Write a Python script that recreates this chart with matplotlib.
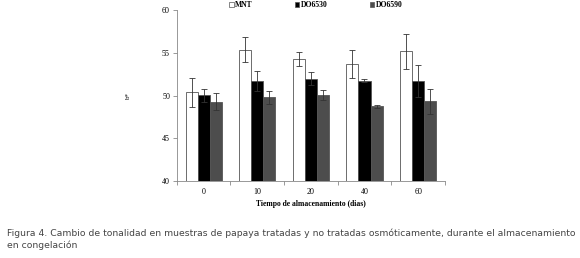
import numpy as np
import matplotlib
matplotlib.use('Agg')
from matplotlib import pyplot as plt
from matplotlib.patches import Patch

# datos
dias = ['0', '10', '20', '40', '60']
series = ['MNT', 'DO6530', 'DO6590']
mnt = [50.4, 55.4, 54.3, 53.7, 55.2]
do6530 = [50.05, 51.7, 52.0, 51.75, 51.75]
do6590 = [49.3, 49.8, 50.1, 48.75, 49.35]
err_mnt = [1.7, 1.5, 0.85, 1.6, 2.05]
err_do6530 = [0.75, 1.2, 0.8, 0.15, 1.9]
err_do6590 = [1.0, 0.8, 0.55, 0.2, 1.45]

colores = ['white', 'black', '#4d4d4d']

plt.rcParams['font.family'] = ['Liberation Serif']
fig = plt.figure(figsize=(5.8, 2.58), dpi=100)
ax = fig.add_axes([0.305, 0.298, 0.462, 0.662])

x = np.arange(len(dias))
w = 0.225
valores = [mnt, do6530, do6590]
errores = [err_mnt, err_do6530, err_do6590]
for i in range(3):
    ax.bar(x + (i - 1) * w, valores[i], w, color=colores[i], edgecolor='#555555',
           linewidth=0.6, yerr=errores[i], capsize=2,
           error_kw={'elinewidth': 0.6, 'capthick': 0.6, 'ecolor': '#333333'})

ax.set_ylim(40, 60)
ax.set_yticks([40, 45, 50, 55, 60])
ax.set_xlim(-0.5, 4.5)
ax.set_xticks(x)
ax.set_xticklabels(dias)
ax.set_xticks(np.arange(-0.5, 5, 1), minor=True)
ax.tick_params(axis='x', which='major', length=0, labelsize=5.8, pad=5)
ax.tick_params(axis='x', which='minor', length=3, width=0.6, color='#888888')
ax.tick_params(axis='y', labelsize=5.8, length=3, width=0.6, color='#888888', pad=2)
for s in ['top', 'right']:
    ax.spines[s].set_visible(False)
for s in ['left', 'bottom']:
    ax.spines[s].set_color('#888888')
    ax.spines[s].set_linewidth(0.6)

ax.set_xlabel('Tiempo de almacenamiento (dias)', fontsize=5.5, fontweight='bold', labelpad=3)
ax.set_ylabel('b*', fontsize=5, labelpad=22)

handles = [Patch(facecolor=colores[i], edgecolor='#555555', linewidth=0.5) for i in range(3)]
ax.legend(handles, series, loc='lower left', bbox_to_anchor=(0.18, 0.985), ncol=3,
          frameon=False, prop={'size': 5.5, 'weight': 'bold'}, handlelength=0.6,
          handleheight=0.6, handletextpad=0.2, columnspacing=5.5, borderpad=0)

fig.text(0.012, 0.072, 'Figura 4. Cambio de tonalidad en muestras de papaya tratadas y no tratadas osmóticamente, durante el almacenamiento\nen congelación',
         fontsize=6.7, color='#444444', family='DejaVu Sans', linespacing=1.3, va='center')

fig.savefig('out.png', dpi=100)
